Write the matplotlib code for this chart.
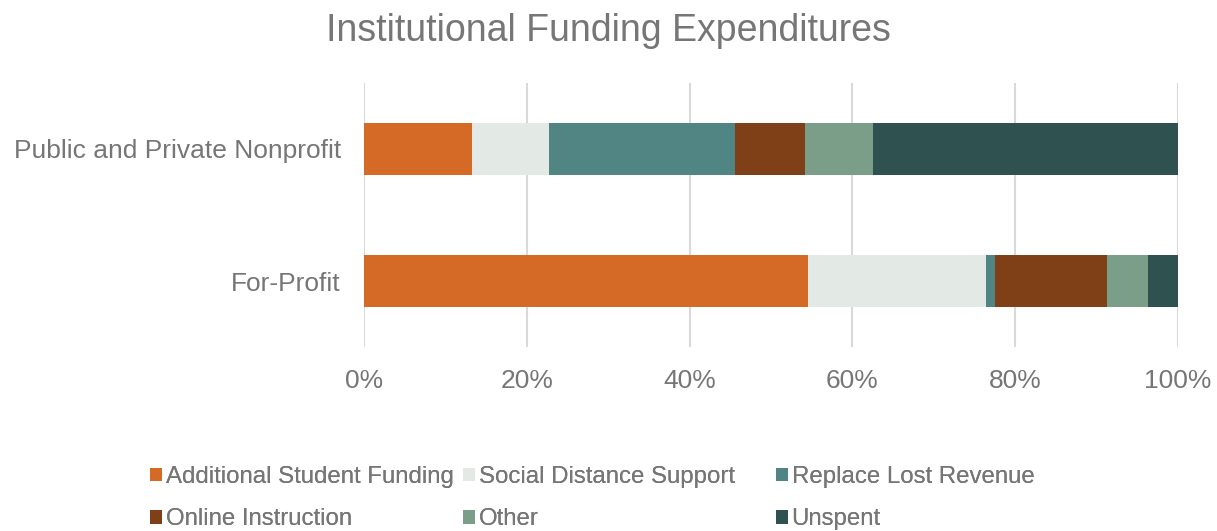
import matplotlib.pyplot as plt
from matplotlib.patches import Patch

plt.rcParams['font.family'] = ['Liberation Sans', 'DejaVu Sans']

# categories from top to bottom
groups = ["Public and Private Nonprofit", "For-Profit"]
series = ["Additional Student Funding", "Social Distance Support", "Replace Lost Revenue",
          "Online Instruction", "Other", "Unspent"]
colors = ["#D56A27", "#E3EAE6", "#518584", "#7F3F17", "#7A9E88", "#2F5250"]

# share of funds (%) for each group, in series order
public_private = [13.2, 9.5, 22.9, 8.6, 8.3, 37.5]
for_profit = [54.5, 21.9, 1.1, 13.8, 5.1, 3.6]

ticks = [0, 20, 40, 60, 80, 100]
text_color = "#767676"

fig = plt.figure(figsize=(12.17, 5.31), dpi=100)
ax = fig.add_axes([0.2995, 0.3465, 0.6682, 0.4972])

values = [public_private, for_profit]
ypos = list(range(len(groups)))
for j, name in enumerate(series):
    left = [sum(v[:j]) for v in values]
    width = [v[j] for v in values]
    ax.barh(ypos, width, left=left, height=0.4, color=colors[j], linewidth=0, zorder=2)

ax.set_ylim(1.5, -0.5)
ax.set_xlim(0, 100)
ax.set_xticks(ticks)
ax.set_xticklabels([f"{t}%" for t in ticks])
ax.set_yticks(ypos)
ax.set_yticklabels(groups)
ax.tick_params(axis="x", length=0, pad=16, labelsize=19, labelcolor=text_color)
ax.tick_params(axis="y", length=0, pad=17, labelsize=19, labelcolor=text_color)
ax.grid(axis="x", color="#D9D9D9", linewidth=1.5, zorder=0)
for s in ax.spines.values():
    s.set_visible(False)

fig.suptitle("Institutional Funding Expenditures", x=0.5, y=1 - 31 / 531, va="center",
             fontsize=27, color=text_color)

# legend laid out like the original: three columns, filled row by row
col_x = [150, 463, 776]
for c in range(3):
    handles = [Patch(facecolor=colors[c], edgecolor="none"),
               Patch(facecolor=colors[c + 3], edgecolor="none")]
    leg = fig.legend(handles, [series[c], series[c + 3]],
                     loc="upper left", bbox_to_anchor=(col_x[c] / 1217, 1 - 466 / 531),
                     frameon=False, fontsize=17.3, labelcolor=text_color,
                     handlelength=0.5, handleheight=0.5, handletextpad=0.15,
                     labelspacing=0.85, borderpad=0, borderaxespad=0)
    fig.add_artist(leg)

fig.savefig("out.png", dpi=100)
